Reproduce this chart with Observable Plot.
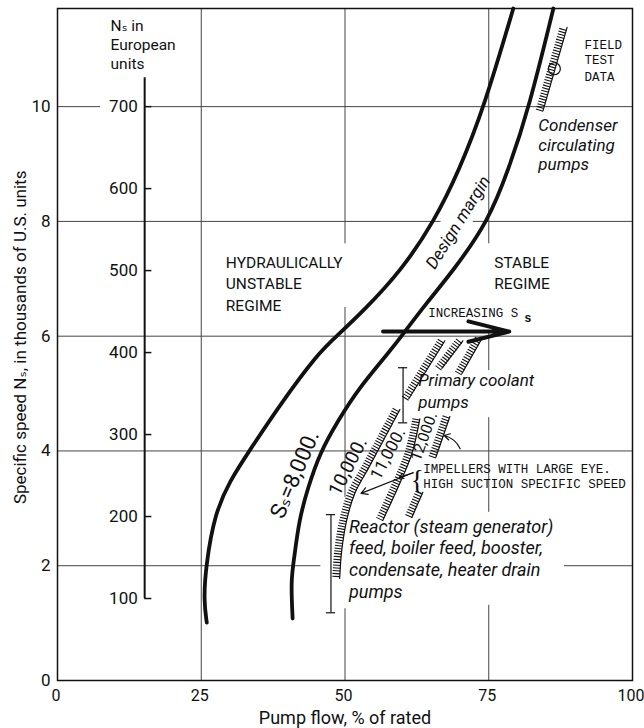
<!DOCTYPE html>
<html><head><meta charset="utf-8">
<script src="https://cdn.jsdelivr.net/npm/d3@7"></script>
<script src="https://cdn.jsdelivr.net/npm/@observablehq/plot@0.6"></script>
<style>body{margin:0;background:#fff}</style>
</head><body><div id="chart"></div>
<script>
// ---------- axes ----------
const xTicks = [0, 25, 50, 75, 100];
const yTicks = [0, 2, 4, 6, 8, 10];
const euroTicks = [100, 200, 300, 400, 500, 600, 700];
const euroPerThousandUS = 70;
const xTitle = "Pump flow, % of rated";
const yTitle = "Specific speed Nₛ, in thousands of U.S. units";
const yTitleX = [-6.4], yTitleY = [5.98];
const euroTitle = ["Nₛ in", "European", "units"];
const euroTitleX = [9.23, 9.23, 9.23];
const euroTitleY = [11.32, 10.98, 10.66];
const euroAxisX = 15.16;
const euroAxisTop = 10.505;

// ---------- gridline segments (x, y in data units) ----------
const gridHValue = [10, 10, 8, 8, 6, 4, 2, 2];
const gridHFrom  = [0, 15.16, 0, 72.3, 0, 0, 0, 88.15];
const gridHTo    = [7.5, 100, 66.7, 100, 100, 100, 45.8, 100];
const gridVValue = [25, 50, 50, 50, 75, 75, 75, 75];
const gridVFrom  = [0, 7.61, 3.19, 0, 7.61, 5.40, 2.93, 0];
const gridVTo    = [11.71, 11.71, 6.50, 1.25, 11.71, 6.10, 4.58, 1.31];

// ---------- stability curves ----------
const ss8000X = [25.96, 25.44, 25.78, 27.35, 29.97, 33.28, 38.85, 45.30, 48.43, 53.31, 59.76, 65.51, 69.86, 74.22, 79.27];
const ss8000Y = [1.01, 1.39, 1.99, 2.91, 3.48, 3.99, 4.83, 5.70, 5.99, 6.45, 7.14, 8.00, 8.89, 10.00, 11.71];
const marginX = [40.89, 40.59, 41.11, 41.99, 43.55, 45.64, 48.78, 52.44, 57.49, 60.28, 64.11, 68.82, 74.91, 78.40, 82.06, 86.24];
const marginY = [1.08, 1.74, 2.09, 2.79, 3.36, 3.97, 4.53, 5.10, 5.70, 6.06, 6.57, 7.14, 8.00, 8.89, 10.00, 11.71];

// ---------- hatched field-data bands ----------
const band10000X = [58.89, 56.27, 53.48, 51.05, 49.65, 48.78, 48.43];
const band10000Y = [4.72, 4.23, 3.71, 3.26, 2.79, 2.26, 1.78];
const band11000X = [62.37, 60.98, 58.54, 55.92];
const band11000Y = [4.56, 3.95, 3.36, 2.79];
const band12000aX = [67.60, 65.16];
const band12000aY = [4.60, 3.89];
const band12000bX = [62.89, 60.98];
const band12000bY = [3.28, 2.84];
const primaryAX = [60.45, 66.72];
const primaryAY = [4.91, 5.92];
const primaryBX = [66.20, 69.86];
const primaryBY = [5.44, 5.92];
const primaryCX = [69.69, 73.17];
const primaryCY = [5.35, 5.96];
const condenserX = [83.80, 87.98];
const condenserY = [9.93, 11.38];
const fieldPointX = [86.41];
const fieldPointY = [10.66];

// ---------- texts ----------
const regimeText = ["HYDRAULICALLY", "UNSTABLE", "REGIME", "STABLE", "REGIME"];
const regimeX = [29.27, 29.27, 29.27, 75.96, 75.96];
const regimeY = [7.195, 6.82, 6.446, 7.195, 6.83];

const noteText = ["Condenser", "circulating", "pumps", "Primary coolant", "pumps"];
const noteX = [83.62, 83.62, 83.62, 62.72, 62.72];
const noteY = [9.58, 9.23, 8.89, 5.14, 4.74];
const reactorText = ["Reactor (steam generator)", "feed, boiler feed, booster,", "condensate, heater drain", "pumps"];
const reactorX = [50.70, 50.70, 50.70, 50.70];
const reactorY = [2.578, 2.213, 1.829, 1.446];

const typeText = ["FIELD", "TEST", "DATA", "INCREASING S", "IMPELLERS WITH LARGE EYE.", "HIGH SUCTION SPECIFIC SPEED"];
const typeX = [91.64, 91.64, 91.64, 64.46, 63.59, 63.59];
const typeY = [11.01, 10.75, 10.45, 6.33, 3.62, 3.36];
const subS = ["s"];
const subSX = [81.18];
const subSY = [6.24];

const rotText = ["Design margin", "Sₛ=8,000.", "10,000.", "11,000.", "12,000."];
const rotX = [69.68, 41.29, 50.52, 57.49, 63.76];
const rotY = [7.98, 3.59, 3.73, 3.95, 4.25];
const rotAngle = [-58, -67, -63, -62, -70];
const rotSize = [17, 22, 19, 17, 15.5];

// ---------- range brackets & arrows ----------
const bracketX = [60.10, 47.56];
const bracketTop = [5.45, 2.89];
const bracketBottom = [4.49, 1.18];
const incArrowX1 = [56.62], incArrowX2 = [78.57], incArrowY = [6.08];
const impArrowX1 = [61.85, 61.85], impArrowY1 = [3.62, 3.62];
const impArrowX2 = [52.79, 59.41], impArrowY2 = [3.26, 3.54];
const curvedArrowX1 = [70.03], curvedArrowY1 = [4.04];
const curvedArrowX2 = [67.25], curvedArrowY2 = [4.27];
const braceX = [62.54], braceY = [3.50];

// ---------- build tables ----------
const zip = (xs, ys, id) => xs.map((x, i) => ({x, y: ys[i], id}));
const curves = [...zip(ss8000X, ss8000Y, "8000"), ...zip(marginX, marginY, "margin")];
const bands = [
  ...zip(band10000X, band10000Y, "b10"), ...zip(band11000X, band11000Y, "b11"),
  ...zip(band12000aX, band12000aY, "b12a"), ...zip(band12000bX, band12000bY, "b12b"),
  ...zip(primaryAX, primaryAY, "pa"), ...zip(primaryBX, primaryBY, "pb"),
  ...zip(primaryCX, primaryCY, "pc"), ...zip(condenserX, condenserY, "cond")
];
const gridH = gridHValue.map((v, i) => ({v, a: gridHFrom[i], b: gridHTo[i]}));
const gridV = gridVValue.map((v, i) => ({v, a: gridVFrom[i], b: gridVTo[i]}));
const rows = (t, xs, ys) => t.map((s, i) => ({s, x: xs[i], y: ys[i]}));
const rotRows = rotText.map((s, i) => ({s, x: rotX[i], y: rotY[i], r: rotAngle[i], f: rotSize[i], it: i === 0}));
const brackets = bracketX.map((x, i) => ({x, t: bracketTop[i], b: bracketBottom[i]}));
const bracketCaps = brackets.flatMap(d => [{x: d.x, y: d.t}, {x: d.x, y: d.b}]);
const euro = euroTicks.map(e => ({e, y: e / euroPerThousandUS}));
const arrows = impArrowX1.map((x, i) => ({x1: x, y1: impArrowY1[i], x2: impArrowX2[i], y2: impArrowY2[i]}));

const SANS = "Roboto, 'DejaVu Sans', sans-serif";
const MONO = "'Liberation Mono', 'Courier New', monospace";
const INK = "#111";

const chart = Plot.plot({
  width: 644, height: 728,
  marginLeft: 57, marginRight: 12, marginTop: 8, marginBottom: 48,
  x: {domain: [0, 100]},
  y: {domain: [0, 11.71]},
  style: {fontFamily: SANS, background: "#fff", color: INK, overflow: "visible"},
  marks: [
    Plot.ruleY(gridH, {y: "v", x1: "a", x2: "b", stroke: "#444", strokeWidth: 1}),
    Plot.ruleX(gridV, {x: "v", y1: "a", y2: "b", stroke: "#444", strokeWidth: 1}),
    Plot.frame({stroke: INK, strokeWidth: 1.5}),
    Plot.axisX({ticks: xTicks, tickSize: 0, tickPadding: 9, fontSize: 16, dx: -1.5, label: null}),
    Plot.axisY({ticks: yTicks, tickSize: 0, tickPadding: 7, fontSize: 17, label: null}),
    Plot.text([xTitle], {frameAnchor: "bottom", dy: 43, fontSize: 18, lineAnchor: "bottom"}),
    Plot.text(rows([yTitle], yTitleX, yTitleY), {x: "x", y: "y", text: "s", rotate: -90, fontSize: 17}),
    // European axis
    Plot.ruleX([euroAxisX], {y1: euro[0].y, y2: euroAxisTop, stroke: INK, strokeWidth: 2}),
    Plot.ruleY(euro, {y: "y", x1: euroAxisX, x2: euroAxisX + 1.25, stroke: INK, strokeWidth: 1.5}),
    Plot.text(euro, {x: euroAxisX - 1.2, y: "y", text: d => String(d.e), textAnchor: "end", fontSize: 17}),
    Plot.text(rows(euroTitle, euroTitleX, euroTitleY), {x: "x", y: "y", text: "s", textAnchor: "start", lineAnchor: "bottom", fontSize: 15.5}),
    // curves
    Plot.line(curves, {x: "x", y: "y", z: "id", curve: "basis", stroke: INK, strokeWidth: 3.8}),
    // hatched bands
    Plot.line(bands, {x: "x", y: "y", z: "id", curve: "catmull-rom", stroke: INK, strokeWidth: 7.5, strokeDasharray: "1.1,1.7", strokeLinecap: "butt"}),
    Plot.line(bands, {x: "x", y: "y", z: "id", curve: "catmull-rom", stroke: INK, strokeWidth: 1.2, dx: 3.7}),
    Plot.dot(rows(["o"], fieldPointX, fieldPointY), {x: "x", y: "y", r: 6, stroke: INK, strokeWidth: 1.2, fill: "none"}),
    // brackets
    Plot.ruleX(brackets, {x: "x", y1: "b", y2: "t", stroke: INK, strokeWidth: 1.2}),
    Plot.ruleY(bracketCaps, {y: "y", x1: d => d.x - 0.8, x2: d => d.x + 0.8, stroke: INK, strokeWidth: 1.2}),
    // arrows
    Plot.arrow(rows([""], incArrowX1, incArrowY), {x1: "x", y1: "y", x2: () => incArrowX2[0], y2: "y", stroke: INK, strokeWidth: 4, headLength: 20, headAngle: 28}),
    Plot.arrow(arrows, {x1: "x1", y1: "y1", x2: "x2", y2: "y2", stroke: INK, strokeWidth: 1.2, headLength: 9}),
    Plot.arrow(rows([""], curvedArrowX1, curvedArrowY1), {x1: "x", y1: "y", x2: () => curvedArrowX2[0], y2: () => curvedArrowY2[0], bend: -25, stroke: INK, strokeWidth: 1.2, headLength: 8}),
    Plot.text(rows(["{"], braceX, braceY), {x: "x", y: "y", text: "s", fontSize: 28, fontFamily: "'Liberation Serif', serif", fontWeight: 300}),
    // texts
    Plot.text(rows(regimeText, regimeX, regimeY), {x: "x", y: "y", text: "s", textAnchor: "start", lineAnchor: "bottom", fontSize: 15.5}),
    Plot.text(rows(noteText, noteX, noteY), {x: "x", y: "y", text: "s", textAnchor: "start", lineAnchor: "bottom", fontSize: 17, fontStyle: "italic"}),
    Plot.text(rows(reactorText, reactorX, reactorY), {x: "x", y: "y", text: "s", textAnchor: "start", lineAnchor: "bottom", fontSize: 18, fontStyle: "italic"}),
    Plot.text(rows(typeText, typeX, typeY), {x: "x", y: "y", text: "s", textAnchor: "start", lineAnchor: "bottom", fontSize: 12.5, fontFamily: MONO}),
    Plot.text(rows(subS, subSX, subSY), {x: "x", y: "y", text: "s", textAnchor: "start", lineAnchor: "bottom", fontSize: 12, fontWeight: "bold", fontFamily: MONO}),
    Plot.text(rotRows.filter(d => d.it), {x: "x", y: "y", text: "s", rotate: "r", fontSize: "f", fontStyle: "italic"}),
    Plot.text(rotRows.filter(d => !d.it), {x: "x", y: "y", text: "s", rotate: "r", fontSize: "f"})
  ]
});
document.getElementById("chart").appendChild(chart);
</script>
</body></html>
